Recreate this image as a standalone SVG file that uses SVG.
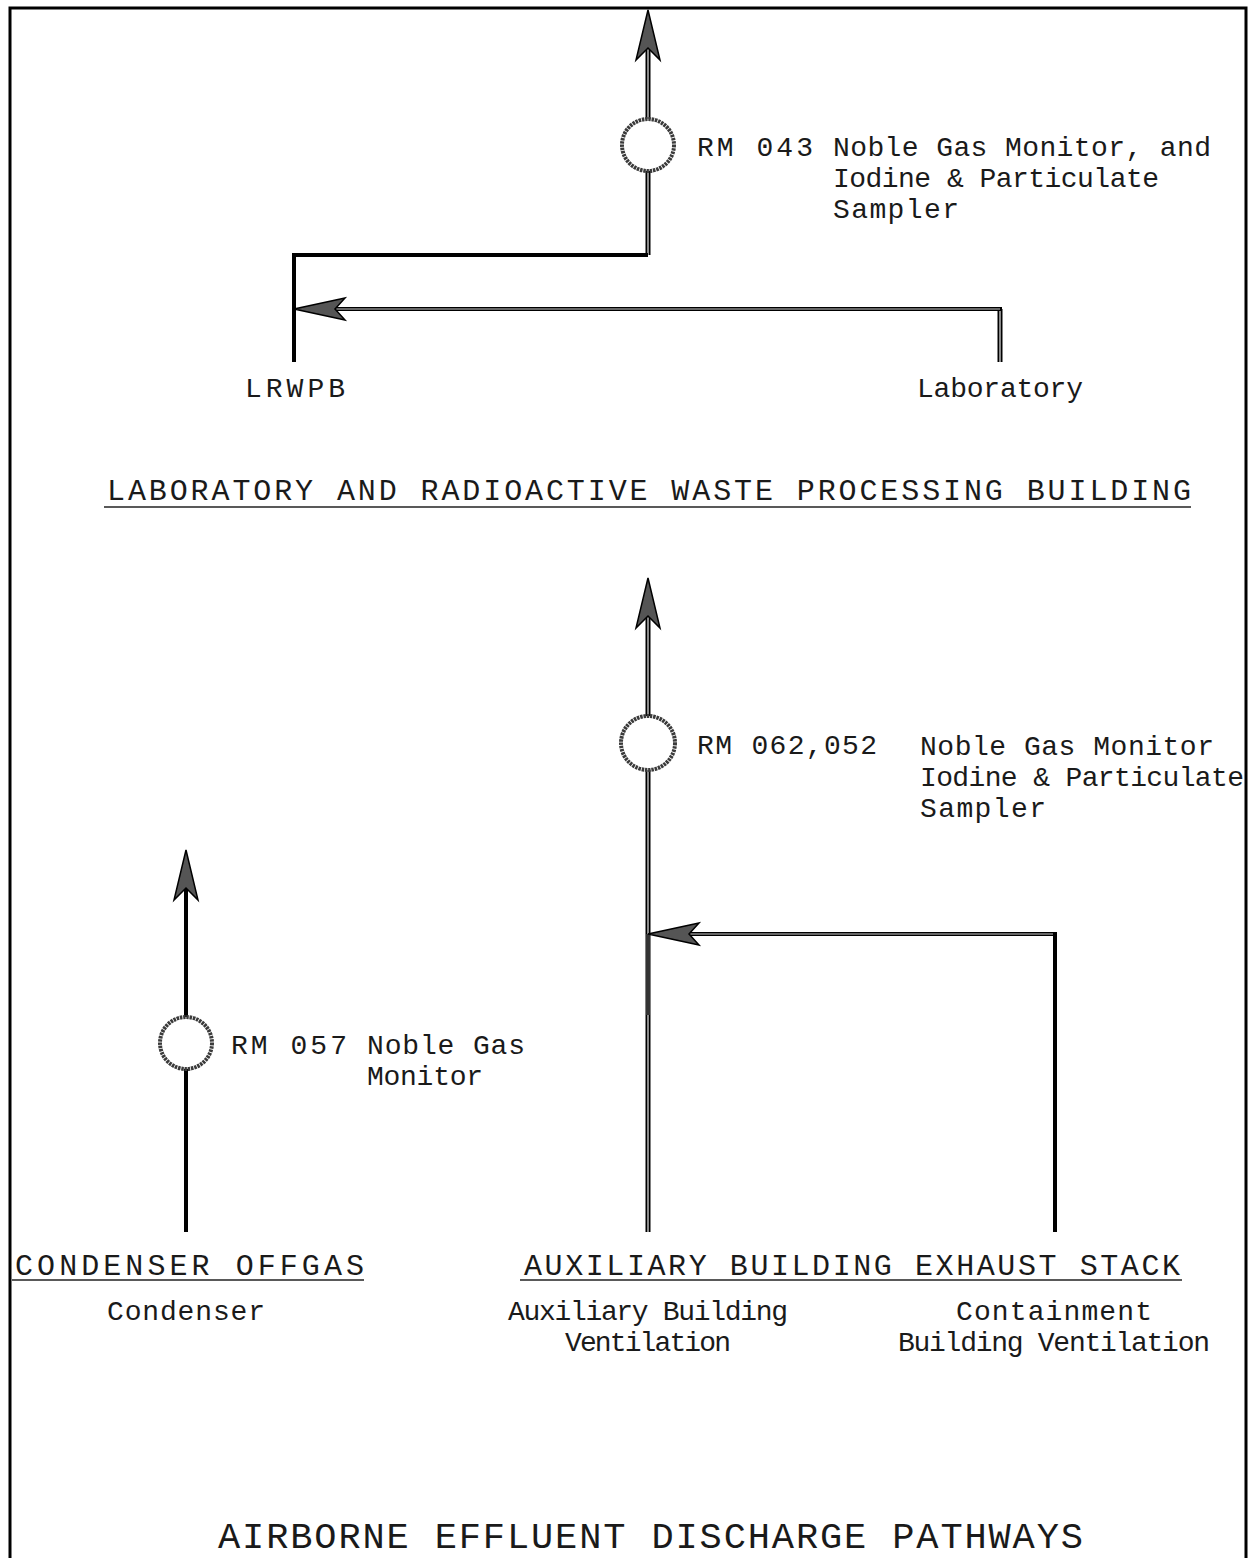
<svg xmlns="http://www.w3.org/2000/svg" width="1257" height="1558" viewBox="0 0 1257 1558">
<style>
.t{font-family:"Liberation Mono","DejaVu Sans Mono",monospace;font-size:28px;fill:#1a1a1a}
.h{font-family:"Liberation Mono","DejaVu Sans Mono",monospace;font-size:30px;fill:#1a1a1a}
.big{font-family:"Liberation Mono","DejaVu Sans Mono",monospace;font-size:37px;fill:#1a1a1a}
.edge{stroke:#000;stroke-width:5;fill:none}
.core{stroke:#8a8a8a;stroke-width:2;fill:none}
.blk{stroke:#000;stroke-width:4;fill:none}
.ul{stroke:#222;stroke-width:1.5}
.mon{fill:#fff;stroke:#3a3a3a;stroke-width:4;stroke-dasharray:2.5 0.8}
.ah{fill:#555;stroke:#000;stroke-width:1.5;stroke-linejoin:miter}
</style>
<defs>
<path id="up" class="ah" d="M0,0 L12,50 L0,38 L-12,50 Z"/>
<path id="left" class="ah" d="M0,0 L51,-11 L41,0 L51,11 Z"/>
</defs>
<rect width="1257" height="1558" fill="#fff"/>
<g id="frame">
<path d="M10,1558 V8 H1246 V1558" fill="none" stroke="#000" stroke-width="3"/>
</g>
<g id="connectors">
<line class="edge" x1="648" y1="255" x2="648" y2="40"/>
<line class="core" x1="648" y1="255" x2="648" y2="40"/>
<path class="blk" stroke-width="3" d="M648,255 H294 V362"/>
<line class="edge" x1="1000" y1="309" x2="1000" y2="362"/>
<line class="core" x1="1000" y1="309" x2="1000" y2="362"/>
<line stroke="#000" stroke-width="4" x1="1002" y1="309" x2="330" y2="309"/>
<line stroke="#ccc" stroke-width="1" x1="1000" y1="309" x2="330" y2="309"/>
<use href="#left" x="294" y="309"/>
<use href="#up" x="648" y="10"/>
<line class="edge" x1="648" y1="1232" x2="648" y2="610"/>
<line class="core" x1="648" y1="1232" x2="648" y2="610"/>
<line stroke="#333" stroke-width="4" x1="648" y1="934" x2="648" y2="1015"/>
<path class="blk" d="M1055,1232 V934"/>
<line stroke="#000" stroke-width="4" x1="1057" y1="934" x2="680" y2="934"/>
<line stroke="#ccc" stroke-width="1" x1="1053" y1="934" x2="680" y2="934"/>
<use href="#left" x="648" y="934"/>
<use href="#up" x="648" y="578"/>
<line class="blk" x1="186" y1="1232" x2="186" y2="880"/>
<use href="#up" x="186" y="850"/>
</g>
<g id="rm043">
<circle class="mon" cx="648" cy="145" r="26"/>
<text class="t" x="697" y="156" textLength="116" lengthAdjust="spacing">RM  043</text>
<text class="t" x="833" y="156" textLength="378" lengthAdjust="spacing">Noble Gas Monitor, and</text>
<text class="t" x="833" y="187" textLength="326" lengthAdjust="spacing">Iodine &amp; Particulate</text>
<text class="t" x="833" y="218" textLength="126" lengthAdjust="spacing">Sampler</text>
</g>
<g id="lrwpb">
<text class="t" x="245" y="397" textLength="100" lengthAdjust="spacing">LRWPB</text>
</g>
<g id="laboratory">
<text class="t" x="917" y="397" textLength="166" lengthAdjust="spacing">Laboratory</text>
</g>
<g id="title1">
<text class="h" x="107" y="500" textLength="1084" lengthAdjust="spacing">LABORATORY AND RADIOACTIVE WASTE PROCESSING BUILDING</text>
<line class="ul" x1="104" y1="507" x2="1191" y2="507"/>
</g>
<g id="rm062">
<circle class="mon" cx="648" cy="743" r="27"/>
<text class="t" x="697" y="754" textLength="180" lengthAdjust="spacing">RM  062,052</text>
<text class="t" x="920" y="755" textLength="294" lengthAdjust="spacing">Noble Gas Monitor</text>
<text class="t" x="920" y="786" textLength="324" lengthAdjust="spacing">Iodine &amp; Particulate</text>
<text class="t" x="920" y="817" textLength="126" lengthAdjust="spacing">Sampler</text>
</g>
<g id="rm057">
<circle class="mon" cx="186" cy="1043" r="26"/>
<text class="t" x="231" y="1054" textLength="116" lengthAdjust="spacing">RM  057</text>
<text class="t" x="367" y="1054" textLength="158" lengthAdjust="spacing">Noble Gas</text>
<text class="t" x="367" y="1085" textLength="116" lengthAdjust="spacing">Monitor</text>
</g>
<g id="condenser">
<text class="h" x="15" y="1275" textLength="349" lengthAdjust="spacing">CONDENSER OFFGAS</text>
<line class="ul" x1="12" y1="1280" x2="364" y2="1280"/>
<text class="t" x="107" y="1320" textLength="158" lengthAdjust="spacing">Condenser</text>
</g>
<g id="aux">
<text class="h" x="524" y="1275" textLength="656" lengthAdjust="spacing">AUXILIARY BUILDING EXHAUST STACK</text>
<line class="ul" x1="520" y1="1280" x2="1182" y2="1280"/>
<text class="t" x="508" y="1320" textLength="280" lengthAdjust="spacing">Auxiliary Building</text>
<text class="t" x="565" y="1351" textLength="166" lengthAdjust="spacing">Ventilation</text>
</g>
<g id="containment">
<text class="t" x="956" y="1320" textLength="196" lengthAdjust="spacing">Containment</text>
<text class="t" x="898" y="1351" textLength="312" lengthAdjust="spacing">Building Ventilation</text>
</g>
<g id="title2">
<text class="big" x="218" y="1548" textLength="865" lengthAdjust="spacing">AIRBORNE EFFLUENT DISCHARGE PATHWAYS</text>
</g>
</svg>
